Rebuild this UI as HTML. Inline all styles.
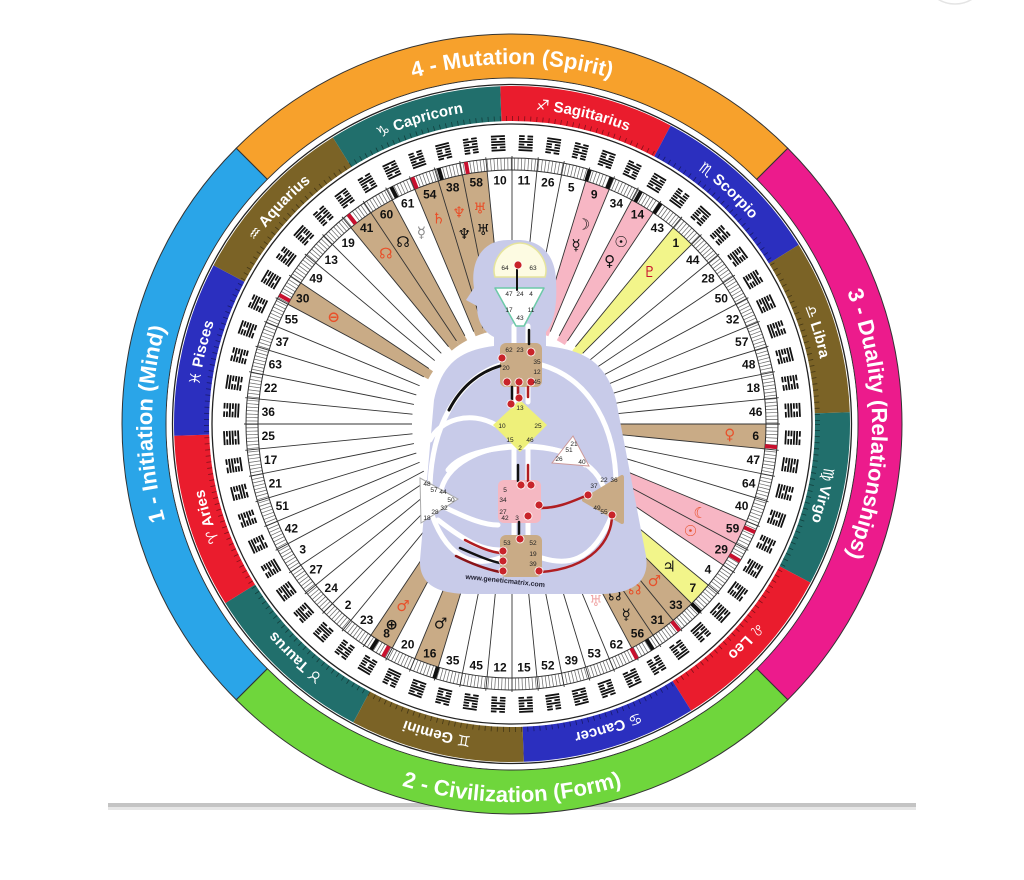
<!DOCTYPE html>
<html><head><meta charset="utf-8"><style>
html,body{margin:0;padding:0;background:#fff;width:1024px;height:880px;overflow:hidden;}
svg{display:block;}
.n{font:bold 12px "Liberation Sans",sans-serif;fill:#111;text-anchor:middle;dominant-baseline:central;}
.q{font:bold 22px "Liberation Sans","DejaVu Sans",sans-serif;fill:#fff;}
.z{font:bold 15px "Liberation Sans","DejaVu Sans",sans-serif;fill:#fff;}
.sy{font:bold 15px "DejaVu Sans",sans-serif;text-anchor:middle;dominant-baseline:central;}
.c{font:6.5px "Liberation Sans",sans-serif;fill:#222;text-anchor:middle;}
</style></head><body>
<svg width="1024" height="880" viewBox="0 0 1024 880" xmlns="http://www.w3.org/2000/svg">
<defs>
<path id="qd" d="M0,-390 A390,390 0 0 1 390,0 L346,0 A346,346 0 0 0 0,-346 Z"/>
<path id="zd" d="M0,-338 A338,338 0 0 1 169,-292.72 L151.5,-262.4 A303,303 0 0 0 0,-303 Z"/>
<path id="w" d="M0,-254 A254,254 0 0 1 24.9,-252.78 L9.31,-94.54 A95,95 0 0 0 0,-95 Z"/>
<g id="s"><rect x="-7" y="-0.9" width="14" height="1.8"/></g>
<g id="b"><rect x="-7" y="-0.9" width="5.6" height="1.8"/><rect x="1.4" y="-0.9" width="5.6" height="1.8"/></g>
<g id="h0"><use href="#s" y="-7"/><use href="#b" y="-4.2"/><use href="#s" y="-1.4"/><use href="#s" y="1.4"/><use href="#b" y="4.2"/><use href="#s" y="7"/></g>
<g id="h1"><use href="#b" y="-7"/><use href="#b" y="-4.2"/><use href="#s" y="-1.4"/><use href="#b" y="1.4"/><use href="#s" y="4.2"/><use href="#s" y="7"/></g>
<g id="h2"><use href="#s" y="-7"/><use href="#s" y="-4.2"/><use href="#b" y="-1.4"/><use href="#b" y="1.4"/><use href="#s" y="4.2"/><use href="#b" y="7"/></g>
<g id="h3"><use href="#b" y="-7"/><use href="#s" y="-4.2"/><use href="#b" y="-1.4"/><use href="#s" y="1.4"/><use href="#b" y="4.2"/><use href="#b" y="7"/></g>
<g id="h4"><use href="#s" y="-7"/><use href="#b" y="-4.2"/><use href="#b" y="-1.4"/><use href="#s" y="1.4"/><use href="#s" y="4.2"/><use href="#b" y="7"/></g>
<g id="h5"><use href="#b" y="-7"/><use href="#s" y="-4.2"/><use href="#s" y="-1.4"/><use href="#b" y="1.4"/><use href="#b" y="4.2"/><use href="#s" y="7"/></g>
<path id="pq" d="M512,784 A360,360 0 0 1 512,64 A360,360 0 0 1 512,784"/>
<path id="pb" d="M512,46 A378,378 0 0 0 512,802 A378,378 0 0 0 512,46"/>
<path id="pz" d="M512,739 A315,315 0 0 1 512,109 A315,315 0 0 1 512,739"/>
</defs>

<circle cx="955" cy="-28" r="32" fill="none" stroke="#e4e4e4" stroke-width="1.5"/>
<rect x="108" y="803" width="808" height="4" fill="#c4c4c4"/>
<rect x="108" y="807" width="808" height="3" fill="#e6e6e6"/>

<g transform="translate(512 424)">
 <use href="#qd" fill="#f7a12c" stroke="#333" stroke-width="1" transform="rotate(-45)"/>
 <use href="#qd" fill="#ec1b8c" stroke="#333" stroke-width="1" transform="rotate(45)"/>
 <use href="#qd" fill="#6fd63c" stroke="#333" stroke-width="1" transform="rotate(135)"/>
 <use href="#qd" fill="#2aa5e8" stroke="#333" stroke-width="1" transform="rotate(225)"/>
 <circle r="345.5" fill="#fff"/>
 <circle r="339.5" fill="none" stroke="#222" stroke-width="1.3"/>
 <use href="#zd" fill="#ea1c2d" transform="rotate(-2)"/>
 <use href="#zd" fill="#2b2fbf" transform="rotate(28)"/>
 <use href="#zd" fill="#7b6326" transform="rotate(58)"/>
 <use href="#zd" fill="#216f6c" transform="rotate(88)"/>
 <use href="#zd" fill="#ea1c2d" transform="rotate(118)"/>
 <use href="#zd" fill="#2b2fbf" transform="rotate(148)"/>
 <use href="#zd" fill="#7b6326" transform="rotate(178)"/>
 <use href="#zd" fill="#216f6c" transform="rotate(208)"/>
 <use href="#zd" fill="#ea1c2d" transform="rotate(238)"/>
 <use href="#zd" fill="#2b2fbf" transform="rotate(268)"/>
 <use href="#zd" fill="#7b6326" transform="rotate(298)"/>
 <use href="#zd" fill="#216f6c" transform="rotate(328)"/>
 <circle r="305.5" fill="none" stroke="rgba(0,0,0,0.45)" stroke-width="5" stroke-dasharray="0.8 5.3"/>
 <circle r="300" fill="#fff" stroke="#222" stroke-width="1.3"/>

 <g fill="#c9ab86">
 <use href="#w" transform="rotate(320.625)"/><use href="#w" transform="rotate(326.25)"/>
 <use href="#w" transform="rotate(337.5)"/><use href="#w" transform="rotate(343.125)"/><use href="#w" transform="rotate(348.75)"/>
 <use href="#w" transform="rotate(298.125)"/><use href="#w" transform="rotate(90)"/>
 <use href="#w" transform="rotate(135)"/><use href="#w" transform="rotate(140.625)"/><use href="#w" transform="rotate(146.25)"/>
 <use href="#w" transform="rotate(208.125)"/><use href="#w" transform="rotate(196.875)"/>
 </g>
 <g fill="#f7b6c4">
 <use href="#w" transform="rotate(16.875)"/><use href="#w" transform="rotate(28.125)"/>
 <use href="#w" transform="rotate(112.5)"/><use href="#w" transform="rotate(118.125)"/>
 </g>
 <g fill="#f2f58a">
 <use href="#w" transform="rotate(39.375)"/><use href="#w" transform="rotate(129.375)"/>
 </g>

 <circle r="260" fill="none" stroke="#666" stroke-width="12" stroke-dasharray="0.7 2.7"/>
 <circle r="254" fill="none" stroke="#333" stroke-width="1"/>
 <circle r="266" fill="none" stroke="#333" stroke-width="1"/>

 <g stroke="#333" stroke-width="0.9">
 <line y1="-100" y2="-268" transform="rotate(-5.625)"/><line y1="-100" y2="-268" transform="rotate(0)"/><line y1="-100" y2="-268" transform="rotate(5.625)"/><line y1="-100" y2="-268" transform="rotate(11.25)"/>
 <line y1="-100" y2="-268" transform="rotate(16.875)"/><line y1="-100" y2="-268" transform="rotate(22.5)"/><line y1="-100" y2="-268" transform="rotate(28.125)"/><line y1="-100" y2="-268" transform="rotate(33.75)"/>
 <line y1="-100" y2="-268" transform="rotate(39.375)"/><line y1="-100" y2="-268" transform="rotate(45)"/><line y1="-100" y2="-268" transform="rotate(50.625)"/><line y1="-100" y2="-268" transform="rotate(56.25)"/>
 <line y1="-100" y2="-268" transform="rotate(61.875)"/><line y1="-100" y2="-268" transform="rotate(67.5)"/><line y1="-100" y2="-268" transform="rotate(73.125)"/><line y1="-100" y2="-268" transform="rotate(78.75)"/>
 <line y1="-100" y2="-268" transform="rotate(84.375)"/><line y1="-100" y2="-268" transform="rotate(90)"/><line y1="-100" y2="-268" transform="rotate(95.625)"/><line y1="-100" y2="-268" transform="rotate(101.25)"/>
 <line y1="-100" y2="-268" transform="rotate(106.875)"/><line y1="-100" y2="-268" transform="rotate(112.5)"/><line y1="-100" y2="-268" transform="rotate(118.125)"/><line y1="-100" y2="-268" transform="rotate(123.75)"/>
 <line y1="-100" y2="-268" transform="rotate(129.375)"/><line y1="-100" y2="-268" transform="rotate(135)"/><line y1="-100" y2="-268" transform="rotate(140.625)"/><line y1="-100" y2="-268" transform="rotate(146.25)"/>
 <line y1="-100" y2="-268" transform="rotate(151.875)"/><line y1="-100" y2="-268" transform="rotate(157.5)"/><line y1="-100" y2="-268" transform="rotate(163.125)"/><line y1="-100" y2="-268" transform="rotate(168.75)"/>
 <line y1="-100" y2="-268" transform="rotate(174.375)"/><line y1="-100" y2="-268" transform="rotate(180)"/><line y1="-100" y2="-268" transform="rotate(185.625)"/><line y1="-100" y2="-268" transform="rotate(191.25)"/>
 <line y1="-100" y2="-268" transform="rotate(196.875)"/><line y1="-100" y2="-268" transform="rotate(202.5)"/><line y1="-100" y2="-268" transform="rotate(208.125)"/><line y1="-100" y2="-268" transform="rotate(213.75)"/>
 <line y1="-100" y2="-268" transform="rotate(219.375)"/><line y1="-100" y2="-268" transform="rotate(225)"/><line y1="-100" y2="-268" transform="rotate(230.625)"/><line y1="-100" y2="-268" transform="rotate(236.25)"/>
 <line y1="-100" y2="-268" transform="rotate(241.875)"/><line y1="-100" y2="-268" transform="rotate(247.5)"/><line y1="-100" y2="-268" transform="rotate(253.125)"/><line y1="-100" y2="-268" transform="rotate(258.75)"/>
 <line y1="-100" y2="-268" transform="rotate(264.375)"/><line y1="-100" y2="-268" transform="rotate(270)"/><line y1="-100" y2="-268" transform="rotate(275.625)"/><line y1="-100" y2="-268" transform="rotate(281.25)"/>
 <line y1="-100" y2="-268" transform="rotate(286.875)"/><line y1="-100" y2="-268" transform="rotate(292.5)"/><line y1="-100" y2="-268" transform="rotate(298.125)"/><line y1="-100" y2="-268" transform="rotate(303.75)"/>
 <line y1="-100" y2="-268" transform="rotate(309.375)"/><line y1="-100" y2="-268" transform="rotate(315)"/><line y1="-100" y2="-268" transform="rotate(320.625)"/><line y1="-100" y2="-268" transform="rotate(326.25)"/>
 <line y1="-100" y2="-268" transform="rotate(331.875)"/><line y1="-100" y2="-268" transform="rotate(337.5)"/><line y1="-100" y2="-268" transform="rotate(343.125)"/><line y1="-100" y2="-268" transform="rotate(348.75)"/>
 </g>

 <g>
 <rect x="-2" y="-266" width="4" height="12" fill="#c8102e" transform="rotate(322)"/>
 <rect x="-2" y="-266" width="4" height="12" fill="#111" transform="rotate(333)"/>
 <rect x="-2" y="-266" width="4" height="12" fill="#c8102e" transform="rotate(338)"/>
 <rect x="-2" y="-266" width="4" height="12" fill="#111" transform="rotate(344)"/>
 <rect x="-2" y="-266" width="4" height="12" fill="#c8102e" transform="rotate(350)"/>
 <rect x="-2" y="-266" width="4" height="12" fill="#c8102e" transform="rotate(299)"/>
 <rect x="-2" y="-266" width="4" height="12" fill="#111" transform="rotate(17)"/>
 <rect x="-2" y="-266" width="4" height="12" fill="#111" transform="rotate(22)"/>
 <rect x="-2" y="-266" width="4" height="12" fill="#111" transform="rotate(29)"/>
 <rect x="-2" y="-266" width="4" height="12" fill="#111" transform="rotate(34)"/>
 <rect x="-2" y="-266" width="4" height="12" fill="#c8102e" transform="rotate(95)"/>
 <rect x="-2" y="-266" width="4" height="12" fill="#c8102e" transform="rotate(114)"/>
 <rect x="-2" y="-266" width="4" height="12" fill="#c8102e" transform="rotate(121)"/>
 <rect x="-2" y="-266" width="4" height="12" fill="#111" transform="rotate(135)"/>
 <rect x="-2" y="-266" width="4" height="12" fill="#c8102e" transform="rotate(141)"/>
 <rect x="-2" y="-266" width="4" height="12" fill="#111" transform="rotate(148)"/>
 <rect x="-2" y="-266" width="4" height="12" fill="#c8102e" transform="rotate(152)"/>
 <rect x="-2" y="-266" width="4" height="12" fill="#111" transform="rotate(197)"/>
 <rect x="-2" y="-266" width="4" height="12" fill="#c8102e" transform="rotate(209)"/>
 <rect x="-2" y="-266" width="4" height="12" fill="#111" transform="rotate(212)"/>
 </g>

 <g fill="#111">
 <use href="#h0" transform="rotate(-2.81) translate(0,-281)"/><use href="#h1" transform="rotate(2.81) translate(0,-281)"/><use href="#h2" transform="rotate(8.44) translate(0,-281)"/><use href="#h3" transform="rotate(14.06) translate(0,-281)"/>
 <use href="#h4" transform="rotate(19.69) translate(0,-281)"/><use href="#h5" transform="rotate(25.31) translate(0,-281)"/><use href="#h0" transform="rotate(30.94) translate(0,-281)"/><use href="#h1" transform="rotate(36.56) translate(0,-281)"/>
 <use href="#h2" transform="rotate(42.19) translate(0,-281)"/><use href="#h3" transform="rotate(47.81) translate(0,-281)"/><use href="#h4" transform="rotate(53.44) translate(0,-281)"/><use href="#h5" transform="rotate(59.06) translate(0,-281)"/>
 <use href="#h0" transform="rotate(64.69) translate(0,-281)"/><use href="#h1" transform="rotate(70.31) translate(0,-281)"/><use href="#h2" transform="rotate(75.94) translate(0,-281)"/><use href="#h3" transform="rotate(81.56) translate(0,-281)"/>
 <use href="#h4" transform="rotate(87.19) translate(0,-281)"/><use href="#h5" transform="rotate(92.81) translate(0,-281)"/><use href="#h0" transform="rotate(98.44) translate(0,-281)"/><use href="#h1" transform="rotate(104.06) translate(0,-281)"/>
 <use href="#h2" transform="rotate(109.69) translate(0,-281)"/><use href="#h3" transform="rotate(115.31) translate(0,-281)"/><use href="#h4" transform="rotate(120.94) translate(0,-281)"/><use href="#h5" transform="rotate(126.56) translate(0,-281)"/>
 <use href="#h0" transform="rotate(132.19) translate(0,-281)"/><use href="#h1" transform="rotate(137.81) translate(0,-281)"/><use href="#h2" transform="rotate(143.44) translate(0,-281)"/><use href="#h3" transform="rotate(149.06) translate(0,-281)"/>
 <use href="#h4" transform="rotate(154.69) translate(0,-281)"/><use href="#h5" transform="rotate(160.31) translate(0,-281)"/><use href="#h0" transform="rotate(165.94) translate(0,-281)"/><use href="#h1" transform="rotate(171.56) translate(0,-281)"/>
 <use href="#h2" transform="rotate(177.19) translate(0,-281)"/><use href="#h3" transform="rotate(182.81) translate(0,-281)"/><use href="#h4" transform="rotate(188.44) translate(0,-281)"/><use href="#h5" transform="rotate(194.06) translate(0,-281)"/>
 <use href="#h0" transform="rotate(199.69) translate(0,-281)"/><use href="#h1" transform="rotate(205.31) translate(0,-281)"/><use href="#h2" transform="rotate(210.94) translate(0,-281)"/><use href="#h3" transform="rotate(216.56) translate(0,-281)"/>
 <use href="#h4" transform="rotate(222.19) translate(0,-281)"/><use href="#h5" transform="rotate(227.81) translate(0,-281)"/><use href="#h0" transform="rotate(233.44) translate(0,-281)"/><use href="#h1" transform="rotate(239.06) translate(0,-281)"/>
 <use href="#h2" transform="rotate(244.69) translate(0,-281)"/><use href="#h3" transform="rotate(250.31) translate(0,-281)"/><use href="#h4" transform="rotate(255.94) translate(0,-281)"/><use href="#h5" transform="rotate(261.56) translate(0,-281)"/>
 <use href="#h0" transform="rotate(267.19) translate(0,-281)"/><use href="#h1" transform="rotate(272.81) translate(0,-281)"/><use href="#h2" transform="rotate(278.44) translate(0,-281)"/><use href="#h3" transform="rotate(284.06) translate(0,-281)"/>
 <use href="#h4" transform="rotate(289.69) translate(0,-281)"/><use href="#h5" transform="rotate(295.31) translate(0,-281)"/><use href="#h0" transform="rotate(300.94) translate(0,-281)"/><use href="#h1" transform="rotate(306.56) translate(0,-281)"/>
 <use href="#h2" transform="rotate(312.19) translate(0,-281)"/><use href="#h3" transform="rotate(317.81) translate(0,-281)"/><use href="#h4" transform="rotate(323.44) translate(0,-281)"/><use href="#h5" transform="rotate(329.06) translate(0,-281)"/>
 <use href="#h0" transform="rotate(334.69) translate(0,-281)"/><use href="#h1" transform="rotate(340.31) translate(0,-281)"/><use href="#h2" transform="rotate(345.94) translate(0,-281)"/><use href="#h3" transform="rotate(351.56) translate(0,-281)"/>
 </g>

 <g class="n">
 <text class="n" transform="rotate(-2.81) translate(0,-244) rotate(2.81)">10</text>
 <text class="n" transform="rotate(2.81) translate(0,-244) rotate(-2.81)">11</text>
 <text class="n" transform="rotate(8.44) translate(0,-244) rotate(-8.44)">26</text>
 <text class="n" transform="rotate(14.06) translate(0,-244) rotate(-14.06)">5</text>
 <text class="n" transform="rotate(19.69) translate(0,-244) rotate(-19.69)">9</text>
 <text class="n" transform="rotate(25.31) translate(0,-244) rotate(-25.31)">34</text>
 <text class="n" transform="rotate(30.94) translate(0,-244) rotate(-30.94)">14</text>
 <text class="n" transform="rotate(36.56) translate(0,-244) rotate(-36.56)">43</text>
 <text class="n" transform="rotate(42.19) translate(0,-244) rotate(-42.19)">1</text>
 <text class="n" transform="rotate(47.81) translate(0,-244) rotate(-47.81)">44</text>
 <text class="n" transform="rotate(53.44) translate(0,-244) rotate(-53.44)">28</text>
 <text class="n" transform="rotate(59.06) translate(0,-244) rotate(-59.06)">50</text>
 <text class="n" transform="rotate(64.69) translate(0,-244) rotate(-64.69)">32</text>
 <text class="n" transform="rotate(70.31) translate(0,-244) rotate(-70.31)">57</text>
 <text class="n" transform="rotate(75.94) translate(0,-244) rotate(-75.94)">48</text>
 <text class="n" transform="rotate(81.56) translate(0,-244) rotate(-81.56)">18</text>
 <text class="n" transform="rotate(87.19) translate(0,-244) rotate(-87.19)">46</text>
 <text class="n" transform="rotate(92.81) translate(0,-244) rotate(-92.81)">6</text>
 <text class="n" transform="rotate(98.44) translate(0,-244) rotate(-98.44)">47</text>
 <text class="n" transform="rotate(104.06) translate(0,-244) rotate(-104.06)">64</text>
 <text class="n" transform="rotate(109.69) translate(0,-244) rotate(-109.69)">40</text>
 <text class="n" transform="rotate(115.31) translate(0,-244) rotate(-115.31)">59</text>
 <text class="n" transform="rotate(120.94) translate(0,-244) rotate(-120.94)">29</text>
 <text class="n" transform="rotate(126.56) translate(0,-244) rotate(-126.56)">4</text>
 <text class="n" transform="rotate(132.19) translate(0,-244) rotate(-132.19)">7</text>
 <text class="n" transform="rotate(137.81) translate(0,-244) rotate(-137.81)">33</text>
 <text class="n" transform="rotate(143.44) translate(0,-244) rotate(-143.44)">31</text>
 <text class="n" transform="rotate(149.06) translate(0,-244) rotate(-149.06)">56</text>
 <text class="n" transform="rotate(154.69) translate(0,-244) rotate(-154.69)">62</text>
 <text class="n" transform="rotate(160.31) translate(0,-244) rotate(-160.31)">53</text>
 <text class="n" transform="rotate(165.94) translate(0,-244) rotate(-165.94)">39</text>
 <text class="n" transform="rotate(171.56) translate(0,-244) rotate(-171.56)">52</text>
 <text class="n" transform="rotate(177.19) translate(0,-244) rotate(-177.19)">15</text>
 <text class="n" transform="rotate(182.81) translate(0,-244) rotate(-182.81)">12</text>
 <text class="n" transform="rotate(188.44) translate(0,-244) rotate(-188.44)">45</text>
 <text class="n" transform="rotate(194.06) translate(0,-244) rotate(-194.06)">35</text>
 <text class="n" transform="rotate(199.69) translate(0,-244) rotate(-199.69)">16</text>
 <text class="n" transform="rotate(205.31) translate(0,-244) rotate(-205.31)">20</text>
 <text class="n" transform="rotate(210.94) translate(0,-244) rotate(-210.94)">8</text>
 <text class="n" transform="rotate(216.56) translate(0,-244) rotate(-216.56)">23</text>
 <text class="n" transform="rotate(222.19) translate(0,-244) rotate(-222.19)">2</text>
 <text class="n" transform="rotate(227.81) translate(0,-244) rotate(-227.81)">24</text>
 <text class="n" transform="rotate(233.44) translate(0,-244) rotate(-233.44)">27</text>
 <text class="n" transform="rotate(239.06) translate(0,-244) rotate(-239.06)">3</text>
 <text class="n" transform="rotate(244.69) translate(0,-244) rotate(-244.69)">42</text>
 <text class="n" transform="rotate(250.31) translate(0,-244) rotate(-250.31)">51</text>
 <text class="n" transform="rotate(255.94) translate(0,-244) rotate(-255.94)">21</text>
 <text class="n" transform="rotate(261.56) translate(0,-244) rotate(-261.56)">17</text>
 <text class="n" transform="rotate(267.19) translate(0,-244) rotate(-267.19)">25</text>
 <text class="n" transform="rotate(272.81) translate(0,-244) rotate(-272.81)">36</text>
 <text class="n" transform="rotate(278.44) translate(0,-244) rotate(-278.44)">22</text>
 <text class="n" transform="rotate(284.06) translate(0,-244) rotate(-284.06)">63</text>
 <text class="n" transform="rotate(289.69) translate(0,-244) rotate(-289.69)">37</text>
 <text class="n" transform="rotate(295.31) translate(0,-244) rotate(-295.31)">55</text>
 <text class="n" transform="rotate(300.94) translate(0,-244) rotate(-300.94)">30</text>
 <text class="n" transform="rotate(306.56) translate(0,-244) rotate(-306.56)">49</text>
 <text class="n" transform="rotate(312.19) translate(0,-244) rotate(-312.19)">13</text>
 <text class="n" transform="rotate(317.81) translate(0,-244) rotate(-317.81)">19</text>
 <text class="n" transform="rotate(323.44) translate(0,-244) rotate(-323.44)">41</text>
 <text class="n" transform="rotate(329.06) translate(0,-244) rotate(-329.06)">60</text>
 <text class="n" transform="rotate(334.69) translate(0,-244) rotate(-334.69)">61</text>
 <text class="n" transform="rotate(340.31) translate(0,-244) rotate(-340.31)">54</text>
 <text class="n" transform="rotate(345.94) translate(0,-244) rotate(-345.94)">38</text>
 <text class="n" transform="rotate(351.56) translate(0,-244) rotate(-351.56)">58</text>
 </g>

 <text class="sy" fill="#e8502a" transform="rotate(323.44) translate(0,-212) rotate(-323.44)">☊</text>
 <text class="sy" fill="#111" transform="rotate(329.06) translate(0,-212) rotate(-329.06)">☊</text>
 <text class="sy" fill="#888" transform="rotate(334.69) translate(0,-212) rotate(-334.69)">☿</text>
 <text class="sy" fill="#e8502a" transform="rotate(340.31) translate(0,-218) rotate(-340.31)">♄</text>
 <text class="sy" fill="#e8502a" transform="rotate(345.94) translate(0,-218) rotate(-345.94)">♆</text>
 <text class="sy" fill="#111" transform="rotate(345.94) translate(0,-196) rotate(-345.94)">♆</text>
 <text class="sy" fill="#e8502a" transform="rotate(351.56) translate(0,-218) rotate(-351.56)">♅</text>
 <text class="sy" fill="#111" transform="rotate(351.56) translate(0,-196) rotate(-351.56)">♅</text>
 <text class="sy" fill="#111" transform="rotate(19.69) translate(0,-212) rotate(-19.69)">☽</text>
 <text class="sy" fill="#111" transform="rotate(19.69) translate(0,-190) rotate(-19.69)">☿</text>
 <text class="sy" fill="#111" transform="rotate(30.94) translate(0,-212) rotate(-30.94)">☉</text>
 <text class="sy" fill="#111" transform="rotate(30.94) translate(0,-190) rotate(-30.94)">♀</text>
 <text class="sy" fill="#c8102e" transform="rotate(42.19) translate(0,-205) rotate(-42.19)">♇</text>
 <text class="sy" fill="#e8502a" transform="rotate(300.94) translate(0,-208) rotate(-300.94)">⊖</text>
 <text class="sy" fill="#e8502a" transform="rotate(92.81) translate(0,-218) rotate(-92.81)">♀</text>
 <text class="sy" fill="#e8502a" transform="rotate(115.31) translate(0,-208) rotate(-115.31)">☾</text>
 <text class="sy" fill="#e8502a" transform="rotate(120.94) translate(0,-208) rotate(-120.94)">☉</text>
 <text class="sy" fill="#111" transform="rotate(132.19) translate(0,-212) rotate(-132.19)">♃</text>
 <text class="sy" fill="#e8502a" transform="rotate(137.81) translate(0,-212) rotate(-137.81)">♂</text>
 <text class="sy" fill="#e8502a" transform="rotate(143.44) translate(0,-206) rotate(-143.44)">☊</text>
 <text class="sy" fill="#111" transform="rotate(149.06) translate(0,-200) rotate(-149.06)">☊</text>
 <text class="sy" fill="#e8502a" transform="rotate(143.44) translate(0,-186) rotate(-143.44)">♃</text>
 <text class="sy" fill="#111" transform="rotate(149.06) translate(0,-222) rotate(-149.06)">☿</text>
 <text class="sy" fill="#f0a8a8" transform="rotate(154.69) translate(0,-196) rotate(-154.69)">♅</text>
 <text class="sy" fill="#e8502a" transform="rotate(210.94) translate(0,-212) rotate(-210.94)">♂</text>
 <text class="sy" fill="#111" transform="rotate(210.94) translate(0,-234) rotate(-210.94)">⊕</text>
 <text class="sy" fill="#111" transform="rotate(199.69) translate(0,-212) rotate(-199.69)">♂</text>
</g>

<text class="q"><textPath href="#pq" startOffset="50%" text-anchor="middle">4 - Mutation (Spirit)</textPath></text>
<text class="q"><textPath href="#pq" startOffset="75%" text-anchor="middle">3 - Duality (Relationships)</textPath></text>
<text class="q"><textPath href="#pq" startOffset="25%" text-anchor="middle">1 - Initiation (Mind)</textPath></text>
<text class="q"><textPath href="#pb" startOffset="50%" text-anchor="middle">2 - Civilization (Form)</textPath></text>

<g class="z">
<text class="z"><textPath href="#pz" startOffset="53.6%" text-anchor="middle">♐  Sagittarius</textPath></text>
<text class="z"><textPath href="#pz" startOffset="61.9%" text-anchor="middle">♏  Scorpio</textPath></text>
<text class="z"><textPath href="#pz" startOffset="70.3%" text-anchor="middle">♎  Libra</textPath></text>
<text class="z"><textPath href="#pz" startOffset="78.6%" text-anchor="middle">♍  Virgo</textPath></text>
<text class="z"><textPath href="#pz" startOffset="86.9%" text-anchor="middle">♌  Leo</textPath></text>
<text class="z"><textPath href="#pz" startOffset="95.1%" text-anchor="middle">♋  Cancer</textPath></text>
<text class="z"><textPath href="#pz" startOffset="3.8%" text-anchor="middle">♊  Gemini</textPath></text>
<text class="z"><textPath href="#pz" startOffset="11.9%" text-anchor="middle">♉  Taurus</textPath></text>
<text class="z"><textPath href="#pz" startOffset="20.3%" text-anchor="middle">♈  Aries</textPath></text>
<text class="z"><textPath href="#pz" startOffset="28.6%" text-anchor="middle">♓  Pisces</textPath></text>
<text class="z"><textPath href="#pz" startOffset="36.9%" text-anchor="middle">♒  Aquarius</textPath></text>
<text class="z"><textPath href="#pz" startOffset="45.3%" text-anchor="middle">♑  Capricorn</textPath></text>
</g>

<path d="M508,240 C482,240 470,262 474,288 L466,300 L477,306 C477,322 484,332 494,337 L494,346 C462,350 442,362 434,400 L420,560 C419,586 440,594 470,594 L600,594 C632,594 650,582 646,556 L616,400 C606,362 584,350 546,346 L546,332 C556,320 557,300 556,280 C555,254 540,240 518,240 Z" fill="#c8cbe9"/>
<g fill="none" stroke="#fff" stroke-width="5" stroke-linecap="round">
<path d="M500,365 C455,380 432,430 430,485"/>
<path d="M542,365 C592,380 616,430 616,485"/>
<path d="M440,495 C450,430 590,430 605,492"/>
<path d="M448,470 C470,440 570,440 585,465"/>
<path d="M432,515 C450,565 480,565 500,558"/>
<path d="M612,515 C592,565 565,565 542,558"/>
<path d="M440,505 C470,520 485,525 498,525"/>
<path d="M438,520 C470,545 485,550 500,550"/>
<path d="M430,440 C440,420 470,410 496,425"/>
<line x1="514" y1="326" x2="514" y2="344"/><line x1="528" y1="326" x2="528" y2="344"/>
<line x1="514" y1="387" x2="514" y2="402"/><line x1="528" y1="387" x2="528" y2="402"/>
<line x1="514" y1="450" x2="514" y2="481"/><line x1="528" y1="450" x2="528" y2="481"/>
<line x1="514" y1="522" x2="514" y2="536"/><line x1="528" y1="522" x2="528" y2="536"/>
</g>
<path d="M495,277 L545,277 C550,262 536,243 520,243 C504,243 490,262 495,277 Z" fill="#fdfbe2" stroke="#e6e49c" stroke-width="1.5"/>
<path d="M495,288 L544,288 L524,326 L516,326 Z" fill="#fff" stroke="#6cc9a8" stroke-width="1.5" stroke-linejoin="round"/>
<rect x="500" y="343" width="42" height="44" rx="6" fill="#c9ab86"/>
<path d="M520,400 L547,425 L520,452 L493,425 Z" fill="#eef07a" stroke-linejoin="round"/>
<path d="M573,436 L589,466 L552,463 Z" fill="#fff" stroke="#c99" stroke-width="1"/>
<path d="M420,478 L458,499 L421,523 Z" fill="#fff" stroke="#aaa" stroke-width="1"/>
<rect x="498" y="480" width="43" height="43" rx="6" fill="#f5b8c2"/>
<path d="M622,477 L622,522 L584,500 Z" fill="#c9ab86" stroke="#c9ab86" stroke-width="4" stroke-linejoin="round"/>
<rect x="500" y="535" width="42" height="42" rx="6" fill="#c9ab86"/>
<g fill="none" stroke-linecap="round">
<path d="M449,410 C462,385 480,372 500,366" stroke="#111" stroke-width="3"/>
<path d="M541,508 C560,508 575,500 588,495" stroke="#b01e22" stroke-width="2.5"/>
<path d="M541,572 C592,568 612,540 612,515" stroke="#b01e22" stroke-width="2.5"/>
<path d="M465,540 C480,548 492,552 500,553" stroke="#b01e22" stroke-width="2.5"/>
<path d="M460,548 C478,556 490,561 500,563" stroke="#111" stroke-width="2.5"/>
<path d="M456,556 C476,566 490,570 500,572" stroke="#8a1418" stroke-width="2.5"/>
<line x1="512" y1="387" x2="512" y2="402" stroke="#111" stroke-width="2.5"/>
<line x1="518" y1="387" x2="518" y2="400" stroke="#b01e22" stroke-width="2.5"/>
<line x1="528" y1="387" x2="528" y2="397" stroke="#b01e22" stroke-width="2.5"/>
<line x1="529" y1="330" x2="529" y2="344" stroke="#111" stroke-width="2.5"/>
<line x1="518" y1="465" x2="518" y2="481" stroke="#111" stroke-width="2.5"/>
<line x1="528" y1="465" x2="528" y2="481" stroke="#b01e22" stroke-width="2.5"/>
<line x1="519" y1="522" x2="519" y2="536" stroke="#111" stroke-width="2.5"/>
<line x1="517" y1="265" x2="517" y2="290" stroke="#111" stroke-width="2"/>
</g>
<g fill="#c8242a" stroke="#fff" stroke-width="0.8">
<circle cx="518" cy="265" r="4"/><circle cx="531" cy="352" r="4"/><circle cx="502" cy="358" r="4"/>
<circle cx="507" cy="382" r="4"/><circle cx="519" cy="382" r="4"/><circle cx="531" cy="382" r="4"/>
<circle cx="511" cy="404" r="4"/><circle cx="519" cy="398" r="4"/>
<circle cx="521" cy="485" r="4"/><circle cx="531" cy="485" r="4"/><circle cx="539" cy="505" r="4"/><circle cx="528" cy="516" r="4"/>
<circle cx="520" cy="539" r="4"/><circle cx="503" cy="551" r="4"/><circle cx="503" cy="561" r="4"/><circle cx="503" cy="571" r="4"/><circle cx="539" cy="571" r="4"/>
<circle cx="588" cy="495" r="4"/><circle cx="612" cy="515" r="4"/>
</g>
<g class="c">
<text x="505" y="270">64</text><text x="533" y="270">63</text>
<text x="509" y="296">47</text><text x="520" y="296">24</text><text x="531" y="296">4</text>
<text x="509" y="312">17</text><text x="531" y="312">11</text><text x="520" y="320">43</text>
<text x="509" y="352">62</text><text x="520" y="352">23</text><text x="537" y="364">35</text><text x="506" y="370">20</text><text x="537" y="374">12</text><text x="537" y="384">45</text>
<text x="520" y="410">13</text><text x="502" y="428">10</text><text x="538" y="428">25</text><text x="510" y="442">15</text><text x="530" y="442">46</text><text x="520" y="450">2</text>
<text x="574" y="446">21</text><text x="569" y="452">51</text><text x="559" y="461">26</text><text x="582" y="464">40</text>
<text x="427" y="486">48</text><text x="434" y="492">57</text><text x="443" y="494">44</text><text x="451" y="502">50</text><text x="444" y="510">32</text><text x="435" y="514">28</text><text x="427" y="520">18</text>
<text x="505" y="492">5</text><text x="503" y="502">34</text><text x="503" y="514">27</text><text x="505" y="520">42</text><text x="517" y="520">3</text>
<text x="594" y="488">37</text><text x="604" y="482">22</text><text x="614" y="482">36</text><text x="597" y="510">49</text><text x="604" y="514">55</text>
<text x="507" y="545">53</text><text x="533" y="545">52</text><text x="533" y="556">19</text><text x="533" y="566">39</text>
</g>
<text x="505" y="583" transform="rotate(6 505 583)" style="font:bold 7px 'Liberation Sans',sans-serif;fill:#223" text-anchor="middle">www.geneticmatrix.com</text>
</svg>
</body></html>
